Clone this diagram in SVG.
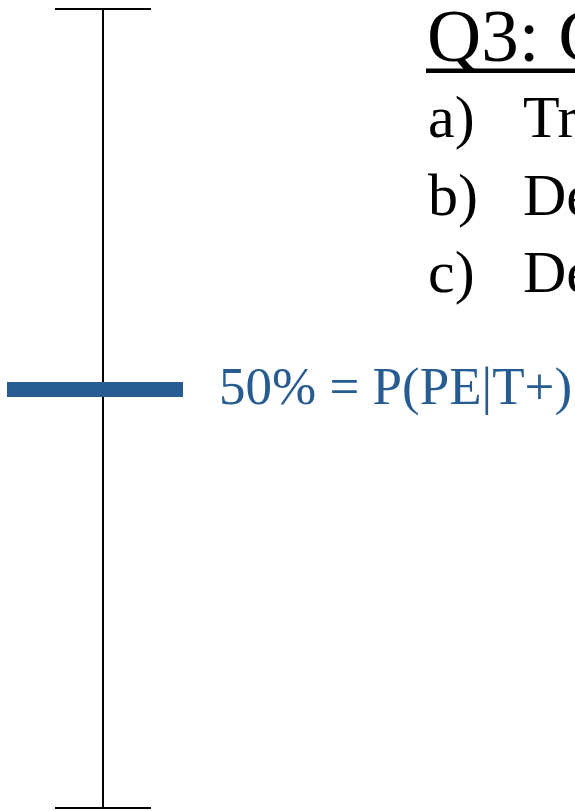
<svg xmlns="http://www.w3.org/2000/svg" width="575" height="811" viewBox="0 0 575 811">
<style>
.ln{stroke:#000;stroke-width:2;fill:none}
.t{font-family:"Liberation Serif","Times New Roman",serif;fill:#000}
.blue{fill:#265C91}
</style>
<rect width="575" height="811" fill="#fff"/>
<g id="axis">
<line class="ln" x1="103" y1="9" x2="103" y2="808"/>
<line class="ln" x1="55" y1="9" x2="151" y2="9"/>
<line class="ln" x1="55" y1="808" x2="151" y2="808"/>
</g>
<g id="marker50">
<rect class="blue" x="7" y="382" width="176" height="15"/>
<text class="t blue" x="219" y="404" font-size="53">50% = P(PE|T+)</text>
</g>
<g id="title">
<text class="t" x="427" y="61" font-size="75">Q3: C</text>
<rect x="426" y="68.5" width="160" height="4.5" fill="#000"/>
</g>
<g id="list">
<text class="t" x="428" y="137" font-size="60">a)</text>
<text class="t" x="523" y="137" font-size="60">Tr</text>
<text class="t" x="428" y="215" font-size="60">b)</text>
<text class="t" x="523" y="215" font-size="60">De</text>
<text class="t" x="428" y="292" font-size="60">c)</text>
<text class="t" x="523" y="292" font-size="60">De</text>
</g>
</svg>
